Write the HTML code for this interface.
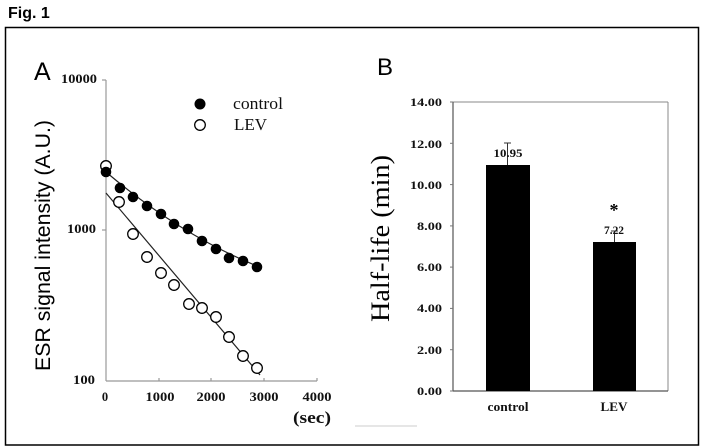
<!DOCTYPE html>
<html><head><meta charset="utf-8"><style>
html,body{margin:0;padding:0;background:#fff;}
svg{display:block;}
</style></head><body>
<svg width="704" height="448" viewBox="0 0 704 448" xmlns="http://www.w3.org/2000/svg">
<rect width="704" height="448" fill="#fff"/>
<text x="8" y="18" font-family="Liberation Sans, sans-serif" font-weight="bold" font-size="16" fill="#000">Fig. 1</text>
<rect x="5.5" y="27.5" width="693" height="417.5" fill="none" stroke="#000" stroke-width="1.5"/>

<!-- Panel A -->
<text x="34" y="80" font-family="Liberation Sans, sans-serif" font-size="25" fill="#000">A</text>
<text transform="translate(50,245.5) rotate(-90)" text-anchor="middle" font-family="Liberation Sans, sans-serif" font-size="21" fill="#000" textLength="251" lengthAdjust="spacingAndGlyphs">ESR signal intensity (A.U.)</text>
<g stroke="#999" stroke-width="1.2" fill="none">
<line x1="106" y1="80" x2="106" y2="381"/>
<line x1="106" y1="381" x2="317" y2="381"/>
<line x1="102" y1="80" x2="106" y2="80"/>
<line x1="102" y1="230" x2="106" y2="230"/>
<line x1="159" y1="381" x2="159" y2="378"/>
<line x1="211" y1="381" x2="211" y2="378"/>
<line x1="264" y1="381" x2="264" y2="378"/>
<line x1="317" y1="381" x2="317" y2="378"/>
</g>
<g font-family="Liberation Serif, serif" font-weight="bold" font-size="12.5" fill="#111">
<text x="97" y="83" text-anchor="end" textLength="36" lengthAdjust="spacingAndGlyphs">10000</text>
<text x="96" y="233" text-anchor="end" textLength="29" lengthAdjust="spacingAndGlyphs">1000</text>
<text x="95" y="384" text-anchor="end" textLength="22" lengthAdjust="spacingAndGlyphs">100</text>
<text x="105" y="401" text-anchor="middle">0</text>
<text x="160" y="401" text-anchor="middle" textLength="29" lengthAdjust="spacingAndGlyphs">1000</text>
<text x="211" y="401" text-anchor="middle" textLength="29" lengthAdjust="spacingAndGlyphs">2000</text>
<text x="264" y="401" text-anchor="middle" textLength="29" lengthAdjust="spacingAndGlyphs">3000</text>
<text x="317" y="401" text-anchor="middle" textLength="29" lengthAdjust="spacingAndGlyphs">4000</text>
</g>
<text x="293" y="423" font-family="Liberation Serif, serif" font-weight="bold" font-size="17" fill="#111" textLength="38" lengthAdjust="spacingAndGlyphs">(sec)</text>

<!-- legend -->
<circle cx="200" cy="104" r="5.5" fill="#000"/>
<circle cx="200" cy="125" r="5.3" fill="#fff" stroke="#000" stroke-width="1.3"/>
<text x="233" y="109" font-family="Liberation Serif, serif" font-size="17" fill="#111" textLength="50" lengthAdjust="spacingAndGlyphs">control</text>
<text x="234" y="130" font-family="Liberation Serif, serif" font-size="17" fill="#111">LEV</text>

<!-- fit lines -->
<path d="M106,172 Q180.5,235 257,266" fill="none" stroke="#222" stroke-width="1.2"/>
<line x1="106" y1="193" x2="260" y2="375" stroke="#222" stroke-width="1.2"/>

<!-- LEV open points -->
<g fill="#fff" stroke="#000" stroke-width="1.3">
<circle cx="106" cy="166" r="5.3"/>
<circle cx="119" cy="202" r="5.3"/>
<circle cx="133" cy="234" r="5.3"/>
<circle cx="147" cy="257" r="5.3"/>
<circle cx="161" cy="273" r="5.3"/>
<circle cx="174" cy="285" r="5.3"/>
<circle cx="189" cy="304" r="5.3"/>
<circle cx="202" cy="308" r="5.3"/>
<circle cx="216" cy="317" r="5.3"/>
<circle cx="229" cy="337" r="5.3"/>
<circle cx="243" cy="356" r="5.3"/>
<circle cx="257" cy="368" r="5.3"/>
</g>
<!-- control filled points -->
<g fill="#000">
<circle cx="106" cy="172" r="5.3"/>
<circle cx="120" cy="188" r="5.3"/>
<circle cx="133" cy="197" r="5.3"/>
<circle cx="147" cy="206" r="5.3"/>
<circle cx="161" cy="214" r="5.3"/>
<circle cx="174" cy="224" r="5.3"/>
<circle cx="188" cy="229" r="5.3"/>
<circle cx="202" cy="241" r="5.3"/>
<circle cx="216" cy="249" r="5.3"/>
<circle cx="229" cy="258" r="5.3"/>
<circle cx="243" cy="261" r="5.3"/>
<circle cx="257" cy="267" r="5.3"/>
</g>

<line x1="355" y1="426" x2="417" y2="426" stroke="#ccc" stroke-width="1"/>

<!-- Panel B -->
<text x="377" y="75" font-family="Liberation Sans, sans-serif" font-size="24" fill="#000">B</text>
<text transform="translate(389,238.5) rotate(-90)" text-anchor="middle" font-family="Liberation Serif, serif" font-size="26" fill="#000" textLength="167" lengthAdjust="spacingAndGlyphs">Half-life (min)</text>
<g fill="none">
<line x1="453" y1="102" x2="668" y2="102" stroke="#888" stroke-width="1"/>
<line x1="668" y1="102" x2="668" y2="391" stroke="#888" stroke-width="1"/>
<line x1="453" y1="102" x2="453" y2="391" stroke="#555" stroke-width="1.2"/>
<line x1="453" y1="391" x2="668" y2="391" stroke="#555" stroke-width="1.2"/>
</g>
<g stroke="#777" stroke-width="1">
<line x1="450" y1="102" x2="453" y2="102"/>
<line x1="450" y1="143.3" x2="453" y2="143.3"/>
<line x1="450" y1="184.6" x2="453" y2="184.6"/>
<line x1="450" y1="225.9" x2="453" y2="225.9"/>
<line x1="450" y1="267.1" x2="453" y2="267.1"/>
<line x1="450" y1="308.4" x2="453" y2="308.4"/>
<line x1="450" y1="349.7" x2="453" y2="349.7"/>
<line x1="450" y1="391" x2="453" y2="391"/>
</g>
<g font-family="Liberation Serif, serif" font-weight="bold" font-size="12" fill="#111" text-anchor="end">
<text x="442" y="106" textLength="32" lengthAdjust="spacingAndGlyphs">14.00</text>
<text x="442" y="148" textLength="32" lengthAdjust="spacingAndGlyphs">12.00</text>
<text x="442" y="189" textLength="32" lengthAdjust="spacingAndGlyphs">10.00</text>
<text x="442" y="230" textLength="25" lengthAdjust="spacingAndGlyphs">8.00</text>
<text x="442" y="271" textLength="25" lengthAdjust="spacingAndGlyphs">6.00</text>
<text x="442" y="312" textLength="25" lengthAdjust="spacingAndGlyphs">4.00</text>
<text x="442" y="354" textLength="25" lengthAdjust="spacingAndGlyphs">2.00</text>
<text x="442" y="395" textLength="25" lengthAdjust="spacingAndGlyphs">0.00</text>
</g>
<!-- bars -->
<rect x="486" y="165" width="44" height="226" fill="#000"/>
<rect x="593" y="242" width="43" height="149" fill="#000"/>
<g stroke="#333" stroke-width="1">
<line x1="507.5" y1="143" x2="507.5" y2="165"/>
<line x1="504" y1="143" x2="511" y2="143"/>
<line x1="614.5" y1="231" x2="614.5" y2="242"/>
<line x1="611" y1="231" x2="618" y2="231"/>
</g>
<g font-family="Liberation Serif, serif" font-weight="bold" font-size="11.5" fill="#111" text-anchor="middle">
<text x="508" y="157" textLength="29" lengthAdjust="spacingAndGlyphs">10.95</text>
<text x="614" y="234" textLength="20" lengthAdjust="spacingAndGlyphs">7.22</text>
</g>
<text x="614" y="216" text-anchor="middle" font-family="Liberation Serif, serif" font-weight="bold" font-size="18" fill="#000">*</text>
<g font-family="Liberation Serif, serif" font-weight="bold" font-size="12.5" fill="#111" text-anchor="middle">
<text x="508" y="411" textLength="41" lengthAdjust="spacingAndGlyphs">control</text>
<text x="614" y="411" textLength="27" lengthAdjust="spacingAndGlyphs">LEV</text>
</g>
</svg>
</body></html>
